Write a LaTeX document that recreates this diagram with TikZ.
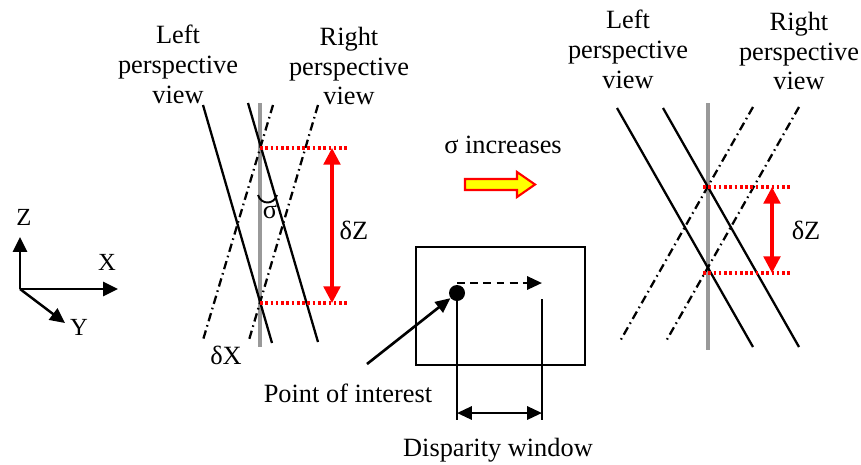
\documentclass[tikz,border=0pt]{standalone}
\usepackage{fontspec}
\setmainfont{Liberation Serif}
\usetikzlibrary{arrows.meta,positioning,calc}
\definecolor{Ink}{HTML}{000000}
\definecolor{AxisGray}{HTML}{999999}
\definecolor{ArrowRed}{HTML}{FF0000}
\definecolor{ArrowYellow}{HTML}{FFFF00}
\tikzset{
  lbl/.style={font=\fontsize{15}{17}\selectfont,inner sep=0pt,text=Ink},
  axlbl/.style={font=\fontsize{14}{16}\selectfont,inner sep=0pt,text=Ink},
  ray/.style={Ink,line width=1.3pt},
  rayproj/.style={Ink,line width=1.3pt,dash pattern=on 4.8pt off 2.3pt on 0.9pt off 2.3pt},
  centreline/.style={AxisGray,line width=1.8pt},
  reddots/.style={ArrowRed,line width=1.8pt,dash pattern=on 1.5pt off 1.5pt},
  dzarrow/.style={ArrowRed,line width=1.9pt,{Triangle[length=9.5pt,width=9.5pt]}-{Triangle[length=9.5pt,width=9.5pt]}},
  axarrow/.style={Ink,line width=1.4pt,-{Triangle[length=8.5pt,width=8pt]}},
  blkarrow/.style={Ink,line width=1.5pt,-{Triangle[length=8.5pt,width=7.5pt]}}
}
\begin{document}
\begin{tikzpicture}[x=0.02cm,y=-0.02cm,>=stealth]
\useasboundingbox (0,0) rectangle (861,464);
% axes
\coordinate (o) at (20,289);
\coordinate (az) at (20,237);
\coordinate (ax) at (118,289);
\coordinate (ay) at (65,323);
\draw[axarrow] (o) -- (az);
\draw[axarrow] (o) -- (ax);
\draw[axarrow] (o) -- (ay);
\node[axlbl] (lz) at (24,217) {Z};
\node[axlbl] (lx) at (107,262) {X};
\node[axlbl] (ly) at (79,327) {Y};
% left panel: before
\node[lbl,align=center] (lpv1) at (178,64) {Left\\perspective\\view};
\node[lbl,align=center] (rpv1) at (349,66) {Right\\perspective\\view};
\draw[centreline] (260,103) -- (260,347);
\draw[ray] (203,105) -- (272,343);
\draw[ray] (248,103) -- (318,342);
\draw[rayproj] (273,105) -- (203,340);
\draw[rayproj] (318,105) -- (249,340);
\coordinate (t1) at (260,148);
\coordinate (b1) at (260,303);
\draw[reddots] (t1) -- ++(88,0) coordinate (t1e);
\draw[reddots] (b1) -- ++(88,0) coordinate (b1e);
\draw[dzarrow] ($(t1e)+(-16,0)$) -- ($(b1e)+(-16,0)$);
\node[lbl] (dz1) at (354,230) {δZ};
\draw[Ink,line width=1.1pt] (258,195) .. controls (261,205) and (274,205) .. (277,195);
\node[lbl] (sig) at (270,212) {σ};
\node[lbl] (dx) at (226,355) {δX};
% sigma increases
\node[lbl] (inc) at (503,145) {σ increases};
\draw[ArrowRed,fill=ArrowYellow,line width=1.2pt] (465,179) -- (517,179) -- (517,172) -- (535,184.5) -- (517,197) -- (517,190) -- (465,190) -- cycle;
% image window
\draw[Ink,line width=1.6pt] (416,247) rectangle (585,365);
\node[circle,fill=Ink,inner sep=0pt,minimum size=0.32cm] (dot) at (457,293) {};
\coordinate (dend) at (542,283);
\draw[blkarrow,dash pattern=on 4.5pt off 3pt] (457,283) -- (dend);
\coordinate (wl) at (457,420);
\coordinate (wrtop) at (542,299);
\coordinate (wr) at (542,420);
\draw[Ink,line width=1.5pt] (dot.center) -- (wl);
\draw[Ink,line width=1.5pt] (wrtop) -- (wr);
\coordinate (dwl) at (457,413);
\coordinate (dwr) at (542,413);
\draw[Ink,line width=1.5pt,{Triangle[length=8.5pt,width=7.5pt]}-{Triangle[length=8.5pt,width=7.5pt]}] (dwl) -- (dwr);
\node[lbl] (dw) at (498,450) {Disparity window};
\node[lbl] (poi) at (348,393) {Point of interest};
\coordinate (poitail) at (367,364);
\draw[blkarrow] (poitail) -- (dot);
% right panel: after
\node[lbl,align=center] (lpv2) at (628,49) {Left\\perspective\\view};
\node[lbl,align=center] (rpv2) at (799,51) {Right\\perspective\\view};
\draw[centreline] (708,103) -- (708,350);
\draw[ray] (617,108) -- (753,347);
\draw[ray] (663,108) -- (799,347);
\draw[rayproj] (753,107) -- (619,343);
\draw[rayproj] (799,107) -- (665,343);
\coordinate (t2) at (703,187);
\coordinate (b2) at (703,273);
\draw[reddots] (t2) -- ++(89,0) coordinate (t2e);
\draw[reddots] (b2) -- ++(89,0) coordinate (b2e);
\draw[dzarrow] ($(t2e)+(-20,0)$) -- ($(b2e)+(-20,0)$);
\node[lbl] (dz2) at (806,230) {δZ};
\end{tikzpicture}
\end{document}
